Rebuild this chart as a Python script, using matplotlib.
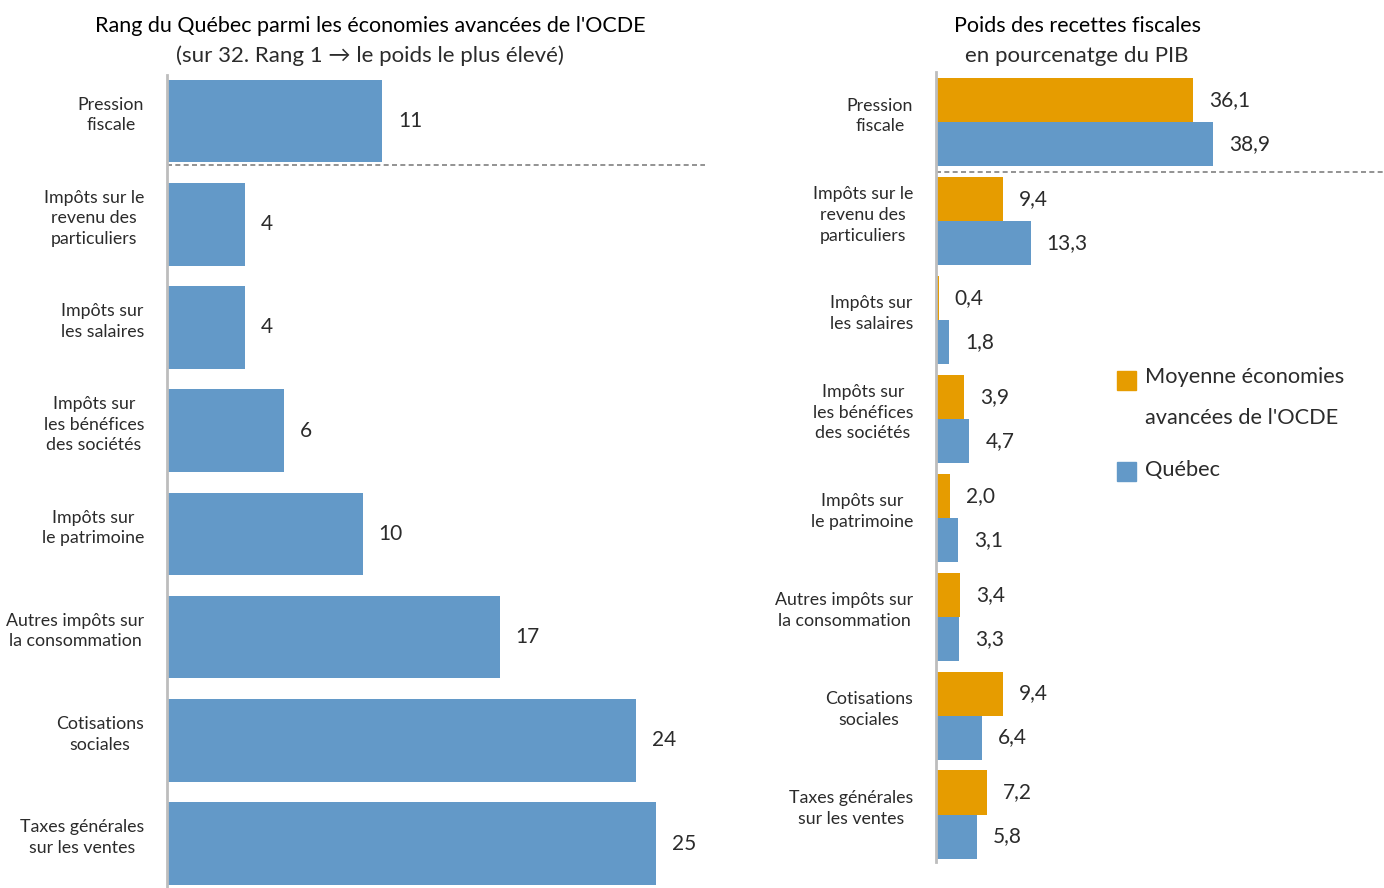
import matplotlib
matplotlib.use("Agg")
import matplotlib.pyplot as plt
from matplotlib.patches import Rectangle
from matplotlib.transforms import blended_transform_factory, offset_copy
import numpy as np

plt.rcParams['font.family'] = ['Lato', 'DejaVu Sans']

categories = [
    "Pression\nfiscale",
    "Impôts sur le\nrevenu des\nparticuliers",
    "Impôts sur\nles salaires",
    "Impôts sur\nles bénéfices\ndes sociétés",
    "Impôts sur\nle patrimoine",
    "Autres impôts sur\nla consommation",
    "Cotisations\nsociales",
    "Taxes générales\nsur les ventes",
]
rang_quebec = [11, 4, 4, 6, 10, 17, 24, 25]
poids_ocde = [36.1, 9.4, 0.4, 3.9, 2.0, 3.4, 9.4, 7.2]
poids_quebec = [38.9, 13.3, 1.8, 4.7, 3.1, 3.3, 6.4, 5.8]

BLUE = "#6399C8"
ORANGE = "#E69C00"
TXT = "#2b2b2b"
SPINE = "#BDBDBD"

W, H = 1384, 888
fig = plt.figure(figsize=(W / 100, H / 100), dpi=100)


def fr(v):
    return f"{v:.1f}".replace(".", ",")


def style(ax, labels, ypos):
    for s in ("top", "right", "bottom"):
        ax.spines[s].set_visible(False)
    ax.spines["left"].set_color(SPINE)
    ax.spines["left"].set_linewidth(2)
    ax.set_xticks([])
    ax.set_yticks([])
    trans = blended_transform_factory(ax.transAxes, ax.transData)
    trans = offset_copy(trans, fig=fig, x=-23, y=6, units="dots")
    for yy, txt in zip(ypos, labels):
        ax.text(0, yy, txt, transform=trans, ha="right", va="center",
                multialignment="center", fontsize=12.8, color=TXT,
                linespacing=1.36)


# Left panel: rank of Québec
axL = fig.add_axes([167 / W, 0.0, 538 / W, (888 - 75) / H])
y = np.arange(len(categories))
bars = axL.barh(y, rang_quebec, height=0.8, color=BLUE)
axL.set_xlim(0, 538 / 19.56)
axL.set_ylim(7.431, -0.446)
style(axL, categories, y)
for b, v in zip(bars, rang_quebec):
    axL.annotate(str(v), (b.get_width(), b.get_y() + b.get_height() / 2),
                 xytext=(11.5, 0), textcoords="offset points",
                 va="center", ha="left", fontsize=15, color=TXT)
axL.axhline(0.43, color="#808080", lw=1.2, ls=(0, (3, 2)), clip_on=False)

# Right panel: tax revenue as share of GDP
axR = fig.add_axes([936 / W, (888 - 862) / H, 448 / W, 790 / H])
off = 0.2225
h = 0.445
bo = axR.barh(y - off, poids_ocde, height=h, color=ORANGE)
bq = axR.barh(y + off, poids_quebec, height=h, color=BLUE)
axR.set_xlim(0, 448 / 7.12)
axR.set_ylim(7.48, -0.505)
style(axR, categories, y)
for bs, vals in ((bo, poids_ocde), (bq, poids_quebec)):
    for b, v in zip(bs, vals):
        axR.annotate(fr(v), (b.get_width(), b.get_y() + b.get_height() / 2),
                     xytext=(11.5, 0), textcoords="offset points",
                     va="center", ha="left", fontsize=15, color=TXT)
axR.axhline(0.505, color="#808080", lw=1.2, ls=(0, (3, 2)), clip_on=False)

# Titles
fig.text(370 / W, 1 - 26 / H, "Rang du Québec parmi les économies avancées de l'OCDE",
         ha="center", va="center", fontsize=15.5, color="black")
fig.text(370 / W, 1 - 56 / H, "(sur 32. Rang 1 \u2192 le poids le plus élevé)",
         ha="center", va="center", fontsize=16, color=TXT)
fig.text(1077 / W, 1 - 26 / H, "Poids des recettes fiscales",
         ha="center", va="center", fontsize=15.5, color="black")
fig.text(1077 / W, 1 - 56 / H, "en pourcenatge du PIB",
         ha="center", va="center", fontsize=16, color=TXT)

# Legend
legend_items = [(ORANGE, ["Moyenne économies", "avancées de l'OCDE"], 371, [377, 418]),
                (BLUE, ["Québec"], 462, [470])]
for col, lines, top, ys in legend_items:
    fig.patches.append(Rectangle((1117 / W, 1 - (top + 19) / H), 19 / W, 19 / H,
                                 transform=fig.transFigure, color=col))
    for line, yl in zip(lines, ys):
        fig.text(1145 / W, 1 - yl / H, line, ha="left", va="center",
                 fontsize=15.7, color=TXT)

fig.savefig("out.png", dpi=100)
